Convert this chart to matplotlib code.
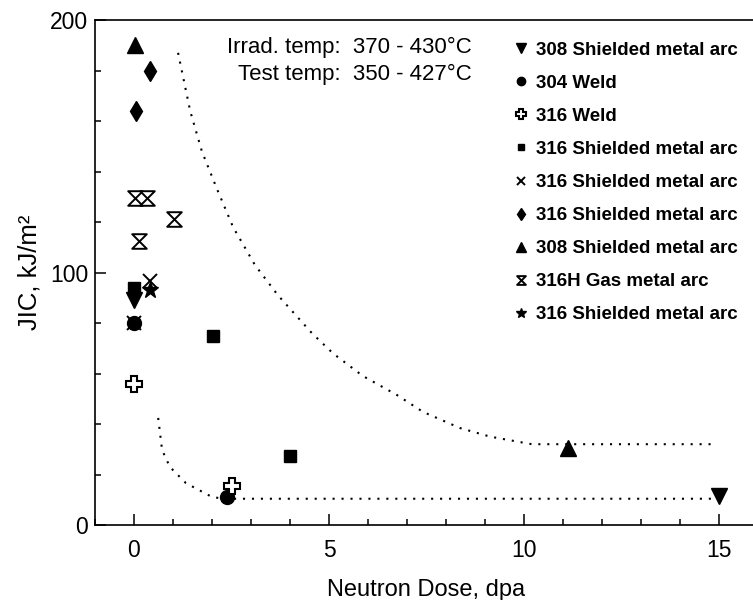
import matplotlib
matplotlib.use("Agg")
import matplotlib.pyplot as plt
from matplotlib.path import Path
from matplotlib.ticker import MultipleLocator

plt.rcParams['font.family'] = ['Liberation Sans', 'DejaVu Sans']

# ---- data ----
smaw308_x = [0.0, 15.0]
smaw308_y = [89, 11.5]
weld304_x = [0.0, 2.38]
weld304_y = [80, 11]
weld316_x = [0.0, 2.5]
weld316_y = [56, 15.5]
smaw316a_x = [0.0, 2.03, 4.0]
smaw316a_y = [94, 75, 27.3]
smaw316b_x = [0.41, 0.0]
smaw316b_y = [96.5, 80]
smaw316c_x = [0.41, 0.05]
smaw316c_y = [180, 164]
smaw308b_x = [0.03, 11.13]
smaw308b_y = [190, 30.5]
gma316h_x = [0.03, 0.33, 0.13, 1.03]
gma316h_y = [129.5, 129.5, 112.5, 121]
smaw316d_x = [0.41]
smaw316d_y = [93]

upper_x = [1.13, 1.44, 1.74, 2.13, 2.54, 3.1, 3.69, 4.56, 5.1, 5.87, 6.74, 7.41, 8.36, 9.13, 10.2, 14.9]
upper_y = [187, 164, 148, 133, 118, 103, 91, 76, 68, 59, 51.5, 44.8, 38.4, 35, 32, 32]
lower_x = [0.62, 0.72, 0.92, 1.33, 2.0, 2.3, 14.9]
lower_y = [42.4, 29.7, 23, 16.6, 11.1, 10.4, 10.4]

labels = ["308 Shielded metal arc", "304 Weld", "316 Weld", "316 Shielded metal arc",
          "316 Shielded metal arc", "316 Shielded metal arc", "308 Shielded metal arc",
          "316H Gas metal arc", "316 Shielded metal arc"]

xticks = [0, 5, 10, 15]
yticks = [0, 100, 200]

hourglass = Path([(-1, 1), (1, 1), (-1, -1), (1, -1), (-1, 1)],
                 [Path.MOVETO, Path.LINETO, Path.LINETO, Path.LINETO, Path.CLOSEPOLY])

fig = plt.figure(figsize=(7.53, 6.00), dpi=100)
ax = fig.add_axes([95 / 753, 75 / 600, 663 / 753, 505 / 600])

dot = (0, (1, 3.3))
ax.plot(upper_x, upper_y, color='black', lw=1.5, linestyle=dot, zorder=1)
ax.plot(lower_x, lower_y, color='black', lw=1.5, linestyle=dot, zorder=1)

k = dict(linestyle='none', color='black')
h = []
h.append(ax.plot(smaw308_x, smaw308_y, marker='v', ms=11, zorder=3, **k)[0])
h.append(ax.plot(weld304_x, weld304_y, marker='o', ms=10, zorder=4, **k)[0])
h.append(ax.plot(weld316_x, weld316_y, marker='P', ms=11, mfc='white', mec='black', mew=1.5, zorder=4, **k)[0])
h.append(ax.plot(smaw316a_x, smaw316a_y, marker='s', ms=8, zorder=3, **k)[0])
h.append(ax.plot(smaw316b_x, smaw316b_y, marker='x', ms=10, mew=1.4, zorder=2, **k)[0])
h.append(ax.plot(smaw316c_x, smaw316c_y, marker='d', ms=10.5, zorder=3, **k)[0])
h.append(ax.plot(smaw308b_x, smaw308b_y, marker='^', ms=11, zorder=3, **k)[0])
h.append(ax.plot(gma316h_x, gma316h_y, marker=hourglass, ms=10.5, mfc='white', mec='black', mew=1.4, zorder=3, **k)[0])
h.append(ax.plot(smaw316d_x, smaw316d_y, marker='*', ms=12, zorder=3, **k)[0])

ax.set_xlim(-1, 16)
ax.set_ylim(0, 200)
ax.set_xticks(xticks)
ax.set_yticks(yticks)
ax.xaxis.set_minor_locator(MultipleLocator(1))
ax.yaxis.set_minor_locator(MultipleLocator(20))
ax.tick_params(which='both', direction='in', top=False, right=False, width=1.1)
ax.tick_params(which='major', length=8)
ax.tick_params(which='minor', length=4)
ax.tick_params(axis='x', which='major', labelsize=16.5, pad=10)
ax.tick_params(axis='y', which='major', labelsize=16.5, pad=5)
for s in ['left', 'bottom', 'top']:
    ax.spines[s].set_linewidth(1.2)
ax.spines['right'].set_visible(False)

ax.set_xlabel("Neutron Dose, dpa", fontsize=17, labelpad=12)
ax.set_ylabel("JIC, kJ/m²", fontsize=18.5, labelpad=6)

ax.text(0.568, 0.945, "Irrad. temp:  370 - 430°C", transform=ax.transAxes,
        ha='right', va='center', fontsize=16)
ax.text(0.568, 0.893, "Test temp:  350 - 427°C", transform=ax.transAxes,
        ha='right', va='center', fontsize=16)

leg = ax.legend(h, labels, loc='upper left', bbox_to_anchor=(0.63, 0.957),
                frameon=False, prop={'weight': 'bold', 'size': 13.5},
                handlelength=0.9, handletextpad=0.35, labelspacing=0.85,
                markerscale=0.6, borderpad=0, borderaxespad=0, numpoints=1)

fig.savefig("out.png", dpi=100)
